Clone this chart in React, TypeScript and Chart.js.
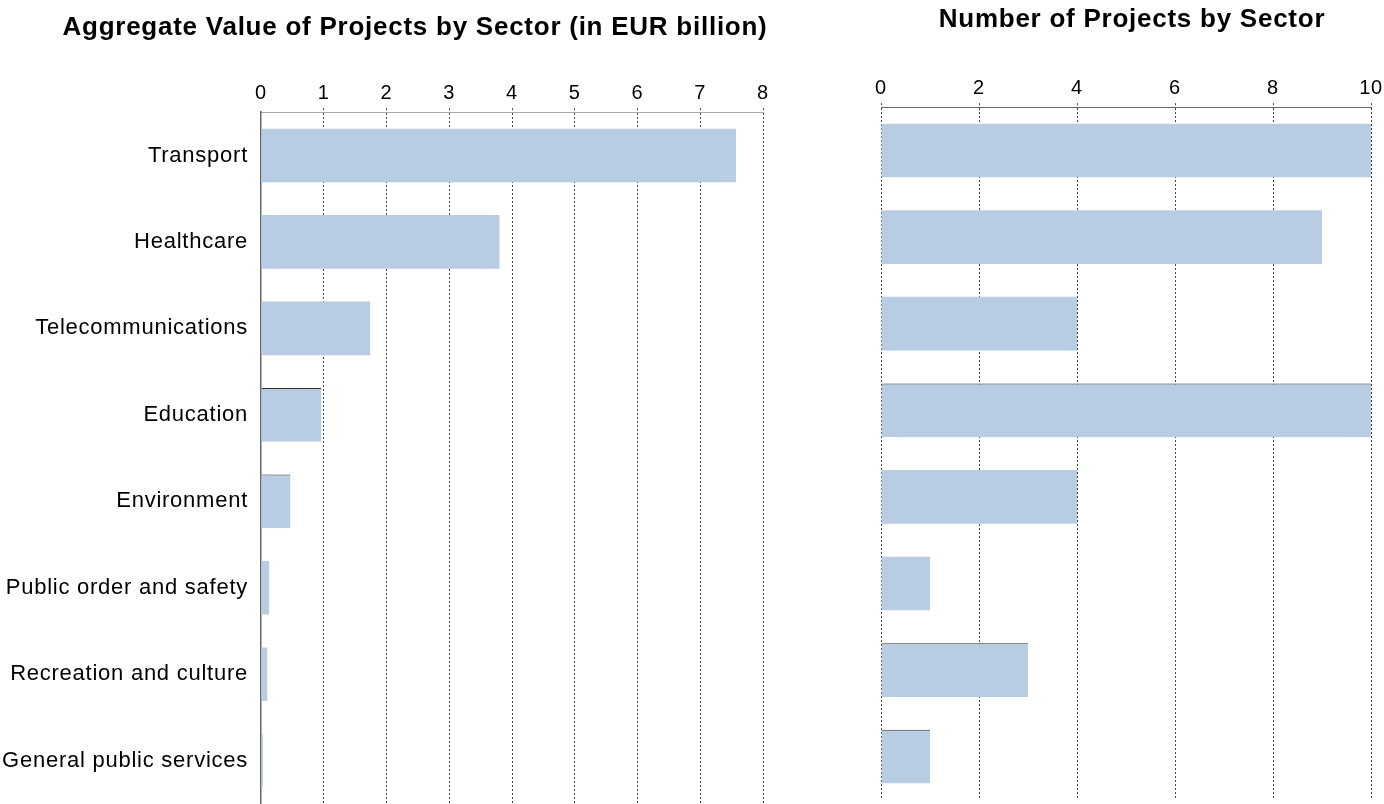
import React, { useEffect, useRef } from "react";
import { Chart, registerables } from "chart.js";

Chart.register(...registerables);

const sectors = [
  "Transport",
  "Healthcare",
  "Telecommunications",
  "Education",
  "Environment",
  "Public order and safety",
  "Recreation and culture",
  "General public services",
];
const valueBillion = [7.57, 3.8, 1.74, 0.96, 0.47, 0.13, 0.1, 0.03];
const projectCount = [10, 9, 4, 10, 4, 1, 3, 1];
const valueTitle = "Aggregate Value of Projects by Sector (in EUR billion)";
const countTitle = "Number of Projects by Sector";
const valueMax = 8;
const valueStep = 1;
const countMax = 10;
const countStep = 2;

// thin top edges seen on a few bars
const valueTopEdge = [0, 0, 0, 1, 1, 0, 0, 0];
const countTopEdge = [0, 0, 0, 1, 0, 0, 1, 1];

const BAR = "#b8cce4";
const FONT = "'Liberation Sans', Arial, Helvetica, sans-serif";
const SPACING = "0.75px";

const spacingPlugin = {
  id: "letterSpacing",
  beforeLayout(chart: any) {
    (chart.ctx as any).letterSpacing = SPACING;
  },
  beforeDraw(chart: any) {
    (chart.ctx as any).letterSpacing = SPACING;
  },
};

function buildConfig(opts: {
  values: number[];
  title: string;
  max: number;
  step: number;
  showLabels: boolean;
  topEdge: number[];
  titleTop: number;
  titleBottom: number;
  pad: { left: number; right: number; top: number; bottom: number };
  rightGap: number;
  axisColor: string;
  zeroDashed: boolean;
}): any {
  return {
    type: "bar",
    data: {
      labels: sectors,
      datasets: [
        {
          data: opts.values,
          backgroundColor: BAR,
          borderColor: opts.topEdge.map((e) => (e ? "#333333" : BAR)),
          borderWidth: opts.topEdge.map((e) => ({ top: e ? 1 : 0, right: 0, bottom: 0, left: 0 })),
          borderSkipped: false,
          barPercentage: 0.62,
          categoryPercentage: 1,
          yAxisID: "y",
        },
      ],
    },
    plugins: [spacingPlugin],
    options: {
      indexAxis: "y",
      responsive: false,
      animation: false,
      maintainAspectRatio: false,
      layout: { padding: opts.pad },
      plugins: {
        legend: { display: false },
        tooltip: { enabled: false },
        title: {
          display: true,
          text: opts.title,
          color: "#000",
          font: { family: FONT, size: 26, weight: "bold", lineHeight: 1.2 },
          padding: { top: opts.titleTop, bottom: opts.titleBottom },
        },
      },
      scales: {
        x: {
          position: "top",
          min: 0,
          max: opts.max,
          ticks: {
            stepSize: opts.step,
            color: "#000",
            padding: 3,
            font: { family: FONT, size: 20 },
          },
          grid: {
            color: (ctx: any) => (ctx.index === 0 && !opts.zeroDashed ? "rgba(0,0,0,0)" : "#444444"),
            lineWidth: 1,
            tickLength: 4,
            drawTicks: true,
            tickBorderDash: [2, 2],
          },
          border: { display: true, color: opts.axisColor, width: 1, dash: [2, 2] },
          afterFit: (scale: any) => {
            scale.height = 33;
            scale.paddingLeft = 0;
            scale.paddingRight = 0;
          },
        },
        y: {
          display: opts.showLabels,
          grid: { display: false, drawTicks: false },
          border: { display: opts.showLabels, color: "#666666", width: 1.5 },
          ticks: {
            color: "#000",
            padding: 13,
            font: { family: FONT, size: 22 },
          },
          afterFit: (scale: any) => {
            if (opts.showLabels) scale.width = 261;
            scale.paddingTop = 0;
            scale.paddingBottom = 0;
          },
        },
        gap: {
          type: "category",
          position: "right",
          display: true,
          grid: { display: false, drawTicks: false },
          border: { display: false },
          ticks: { display: false },
          afterFit: (scale: any) => {
            scale.width = opts.rightGap;
            scale.paddingTop = 0;
            scale.paddingBottom = 0;
          },
        },
      },
    },
  };
}

function ChartCanvas(props: { width: number; height: number; left: number; config: any }) {
  const ref = useRef<HTMLCanvasElement | null>(null);
  useEffect(() => {
    if (!ref.current) return;
    const chart = new Chart(ref.current, props.config);
    return () => chart.destroy();
  }, []);
  return (
    <canvas
      ref={ref}
      width={props.width}
      height={props.height}
      style={{ position: "absolute", left: props.left, top: 0, width: props.width, height: props.height }}
    />
  );
}

export default function App() {
  const leftConfig = buildConfig({
    values: valueBillion,
    title: valueTitle,
    max: valueMax,
    step: valueStep,
    showLabels: true,
    topEdge: valueTopEdge,
    titleTop: 12,
    titleBottom: 36,
    pad: { left: 0, right: 0, top: 0, bottom: 0 },
    rightGap: 67,
    axisColor: "#aaaaaa",
    zeroDashed: false,
  });
  const rightConfig = buildConfig({
    values: projectCount,
    title: countTitle,
    max: countMax,
    step: countStep,
    showLabels: false,
    topEdge: countTopEdge,
    titleTop: 4.5,
    titleBottom: 38.5,
    pad: { left: 21, right: 21, top: 0, bottom: 4 },
    rightGap: 12,
    axisColor: "#666666",
    zeroDashed: true,
  });
  return (
    <div
      style={{
        position: "absolute",
        left: 0,
        top: 0,
        width: 1384,
        height: 804,
        background: "#fff",
        overflow: "hidden",
      }}
    >
      <ChartCanvas width={830} height={804} left={0} config={leftConfig} />
      <ChartCanvas width={544} height={804} left={860} config={rightConfig} />
    </div>
  );
}
